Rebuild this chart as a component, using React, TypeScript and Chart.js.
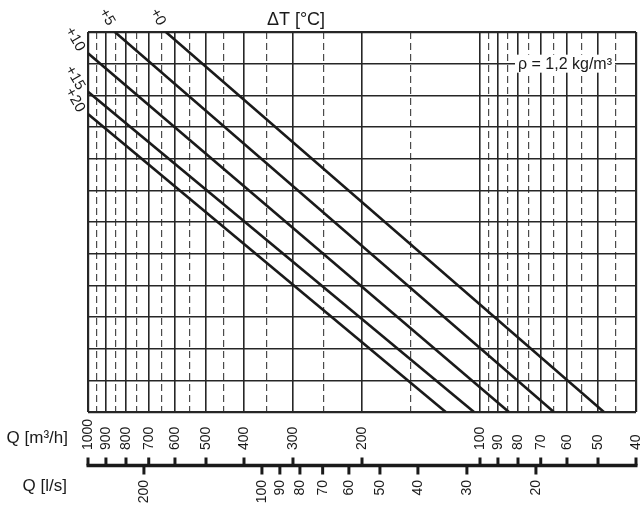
import React, { useEffect, useRef } from 'react';
import { Chart, registerables } from 'chart.js';

Chart.register(...registerables);

// Vertical grid: solid lines (m³/h), dashed intermediate lines
const flowSolidM3h = [1000, 900, 800, 700, 600, 500, 400, 300, 200, 100, 90, 80, 70, 60, 50, 40];
const flowDashedM3h = [950, 850, 750, 650, 550, 450, 350, 250, 150, 95, 85, 75, 65, 55, 45];
// Bottom scale tick labels
const flowTicksM3h = [1000, 900, 800, 700, 600, 500, 400, 300, 200, 100, 90, 80, 70, 60, 50, 40];
const flowTicksLs = [200, 100, 90, 80, 70, 60, 50, 40, 30, 20];
// Rows (horizontal grid)
const rowMin = 0;
const rowMax = 12;

// ΔT lines
const deltaTLabels = ['+0', '+5', '+10', '+15', '+20'];
const lineStartQ = [633, 854, 1000, 1000, 1000];
const lineStartRow = [12, 12, 11.33, 10.11, 9.41];
const lineEndQ = [48.3, 64.8, 84.4, 103.6, 122.3];
const lineEndRow = [0, 0, 0, 0, 0];

const FONT = "'Liberation Sans', Arial, Helvetica, sans-serif";
const LS_TO_M3H = 3.6;

const overlayPlugin = {
  id: 'overlay',
  afterDraw(chart: any) {
    const ctx = chart.ctx as CanvasRenderingContext2D;
    const xs = chart.scales.x;
    const ys = chart.scales.y;
    ctx.save();
    ctx.fillStyle = '#1a1a1a';

    // Title ΔT
    ctx.font = `18px ${FONT}`;
    ctx.textAlign = 'center';
    ctx.textBaseline = 'alphabetic';
    ctx.fillText('ΔT [°C]', 296, 25);

    // Density note with white box
    const yRho = ys.getPixelForValue(11);
    ctx.font = `16px ${FONT}`;
    const rho = 'ρ = 1,2 kg/m³';
    const w = ctx.measureText(rho).width;
    const x0 = 518;
    ctx.fillStyle = '#ffffff';
    ctx.fillRect(x0 - 3, yRho - 9, w + 6, 18);
    ctx.fillStyle = '#1a1a1a';
    ctx.textAlign = 'left';
    ctx.textBaseline = 'middle';
    ctx.fillText(rho, x0, yRho + 1);

    // Line labels
    chart.data.datasets.forEach((ds: any) => {
      const p = ds.data[0];
      const px = xs.getPixelForValue(p.x);
      const py = ys.getPixelForValue(p.y);
      const fromTop = p.y >= rowMax;
      const cx = px + (fromTop ? -8 : -13);
      const cy = py + (fromTop ? -15 : -14);
      ctx.save();
      ctx.translate(cx, cy);
      ctx.rotate(Math.PI / 3);
      ctx.font = `15px ${FONT}`;
      ctx.textAlign = 'center';
      ctx.textBaseline = 'middle';
      ctx.fillText(ds.label, 0, 0);
      ctx.restore();
    });

    // Bottom dual axis
    const axisY = 465.5;
    const left = xs.getPixelForValue(1000);
    const right = xs.getPixelForValue(40);
    ctx.strokeStyle = '#1a1a1a';
    ctx.lineWidth = 3.5;
    ctx.beginPath();
    ctx.moveTo(left - 1.5, axisY);
    ctx.lineTo(right + 1.5, axisY);
    ctx.stroke();

    ctx.lineWidth = 3;
    ctx.font = `14px ${FONT}`;
    flowTicksM3h.forEach((v) => {
      const x = xs.getPixelForValue(v);
      ctx.beginPath();
      ctx.moveTo(x, axisY);
      ctx.lineTo(x, axisY - 8);
      ctx.stroke();
      ctx.save();
      ctx.translate(x + 0.5, 450);
      ctx.rotate(-Math.PI / 2);
      ctx.textAlign = 'left';
      ctx.textBaseline = 'middle';
      ctx.fillText(String(v), 0, 0);
      ctx.restore();
    });
    flowTicksLs.forEach((v) => {
      const x = xs.getPixelForValue(v * LS_TO_M3H);
      ctx.beginPath();
      ctx.moveTo(x, axisY);
      ctx.lineTo(x, axisY + 9);
      ctx.stroke();
      ctx.save();
      ctx.translate(x + 0.5, 480);
      ctx.rotate(-Math.PI / 2);
      ctx.textAlign = 'right';
      ctx.textBaseline = 'middle';
      ctx.fillText(String(v), 0, 0);
      ctx.restore();
    });

    // Axis titles
    ctx.font = `17px ${FONT}`;
    ctx.textAlign = 'right';
    ctx.textBaseline = 'middle';
    ctx.fillText('Q [m³/h]', 68, 438);
    ctx.fillText('Q [l/s]', 67, 486);
    ctx.restore();
  },
};

export default function App() {
  const canvasRef = useRef<HTMLCanvasElement | null>(null);

  useEffect(() => {
    if (!canvasRef.current) return;
    const allX = [...flowSolidM3h, ...flowDashedM3h].sort((a, b) => b - a);
    const isDashed = (v: number | undefined) => v !== undefined && flowDashedM3h.includes(v);
    const isEdgeX = (v: number | undefined) => v === 1000 || v === 40;

    const datasets = deltaTLabels.map((label, i) => ({
      label,
      data: [
        { x: lineStartQ[i], y: lineStartRow[i] },
        { x: lineEndQ[i], y: lineEndRow[i] },
      ],
      borderColor: '#1a1a1a',
      borderWidth: 2.6,
      pointRadius: 0,
      fill: false,
      tension: 0,
    }));

    const chart = new Chart(canvasRef.current, {
      type: 'line',
      data: { datasets },
      options: {
        animation: false,
        responsive: false,
        devicePixelRatio: 1,
        layout: { padding: { left: 88, top: 32, right: 4, bottom: 94 } },
        plugins: { legend: { display: false }, tooltip: { enabled: false } },
        scales: {
          x: {
            type: 'logarithmic',
            reverse: true,
            min: 40,
            max: 1000,
            afterBuildTicks: (scale: any) => {
              scale.ticks = allX.map((v) => ({ value: v }));
            },
            ticks: { display: false },
            grid: {
              drawTicks: false,
              color: (c: any) => (isDashed(c.tick?.value) ? '#4a4a4a' : '#262626'),
              lineWidth: (c: any) => (isEdgeX(c.tick?.value) ? 2.2 : isDashed(c.tick?.value) ? 1.2 : 1.6),
            },
            border: {
              display: false,
              dash: (c: any) => (isDashed(c.tick?.value) ? [7, 4] : []),
            },
          },
          y: {
            type: 'linear',
            min: rowMin,
            max: rowMax,
            ticks: { display: false, stepSize: 1 },
            grid: {
              drawTicks: false,
              color: '#262626',
              lineWidth: (c: any) => (c.tick?.value === rowMin || c.tick?.value === rowMax ? 2.2 : 1.6),
            },
            border: { display: false },
          },
        },
      } as any,
      plugins: [overlayPlugin],
    });
    return () => chart.destroy();
  }, []);

  return (
    <div style={{ position: 'absolute', left: 0, top: 0, width: 640, height: 506, background: '#fff' }}>
      <canvas ref={canvasRef} width={640} height={506} />
    </div>
  );
}
